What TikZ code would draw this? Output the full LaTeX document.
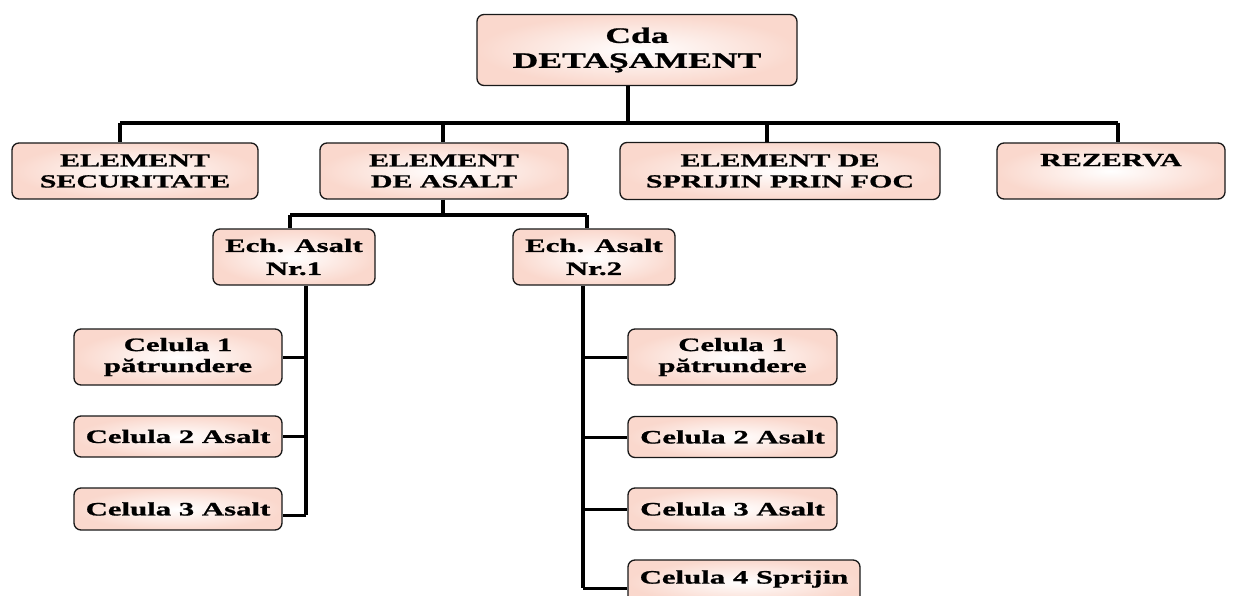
\documentclass[tikz,border=0pt]{standalone}
\usepackage{fontspec}
\newfontfamily\tnr{Liberation Serif}[FakeStretch=1.62, BoldFeatures={FakeBold=1}]
\definecolor{boxpink}{RGB}{250,216,205}
\definecolor{boxline}{RGB}{25,25,25}
\begin{document}
\begin{tikzpicture}[x=1pt,y=-1pt,
  box/.style={draw=boxline, line width=1.3pt, rounded corners=7pt,
    inner color=white, outer color=boxpink, align=center,
    inner sep=0pt, font=\tnr\bfseries},
  topfont/.style={font=\tnr\bfseries\fontsize{22}{25}\selectfont},
  rowfont/.style={font=\tnr\bfseries\fontsize{18.5}{21}\selectfont},
  cellfont/.style={font=\tnr\bfseries\fontsize{19}{21}\selectfont},
  echfont/.style={font=\tnr\bfseries\fontsize{19}{23}\selectfont},
  bus/.style={line width=4.8pt, line join=miter},
  thin/.style={line width=3pt, line join=miter}]
\useasboundingbox (0,0) rectangle (1237,596);

% nodes
\node[box, topfont, minimum width=320pt, minimum height=71pt] (top) at (637,50) {Cda\\DETAŞAMENT};
\node[box, rowfont, minimum width=246pt, minimum height=56pt] (sec) at (135,171) {ELEMENT\\SECURITATE};
\node[box, rowfont, minimum width=248pt, minimum height=56pt] (asalt) at (444,171) {ELEMENT\\DE ASALT};
\node[box, rowfont, minimum width=320pt, minimum height=57pt] (foc) at (780,171) {ELEMENT DE\\SPRIJIN PRIN FOC};
\node[box, rowfont, minimum width=228pt, minimum height=56pt, text depth=22pt] (rez) at (1111,171) {REZERVA};

\node[box, echfont, minimum width=162pt, minimum height=56pt] (ech1) at (294,257) {Ech. Asalt\\Nr.1};
\node[box, echfont, minimum width=162pt, minimum height=56pt] (ech2) at (594,257) {Ech. Asalt\\Nr.2};

\node[box, cellfont, minimum width=208pt, minimum height=56pt] (c11) at (178,357) {Celula 1\\pătrundere};
\node[box, cellfont, minimum width=208pt, minimum height=41pt] (c12) at (178,436.5) {Celula 2 Asalt};
\node[box, cellfont, minimum width=208pt, minimum height=42pt] (c13) at (178,509) {Celula 3 Asalt};

\node[box, cellfont, minimum width=209pt, minimum height=56pt] (c21) at (732.5,357) {Celula 1\\pătrundere};
\node[box, cellfont, minimum width=209pt, minimum height=41pt] (c22) at (732.5,437) {Celula 2 Asalt};
\node[box, cellfont, minimum width=209pt, minimum height=42pt] (c23) at (732.5,509) {Celula 3 Asalt};
\node[box, cellfont, minimum width=232pt, minimum height=44pt, text depth=10pt] (c24) at (744,582) {Celula 4 Sprijin};

% coordinates of the buses
\coordinate (b0) at (628,123);
\coordinate (b1) at (120,123);
\coordinate (b2) at (443,123);
\coordinate (b3) at (767,123);
\coordinate (b4) at (1118,123);
\coordinate (a0) at (443,215);
\coordinate (a1) at (290,215);
\coordinate (a2) at (587,215);
\coordinate (l3) at (306,515);
\coordinate (r4) at (583,588);

% top level
\draw[bus] (top.south -| b0) -- (b0);
\draw[bus] (b1) -- (b4);
\draw[bus] (b1) -- (sec.north -| b1);
\draw[bus] (b2) -- (asalt.north -| b2);
\draw[bus] (b3) -- (foc.north -| b3);
\draw[bus] (b4) -- (rez.north -| b4);

% assault element
\draw[bus] (asalt.south -| a0) -- (a0);
\draw[bus] (a1) -- (a2);
\draw[bus] (a1) -- (ech1.north -| a1);
\draw[bus] (a2) -- (ech2.north -| a2);

% echelon 1
\draw[bus] (ech1.south -| l3) -- (l3);
\draw[thin] (l3) -- (l3 -| c13.east);
\draw[thin] (l3 |- c11.east) -- (c11.east);
\draw[thin] (l3 |- c12.east) -- (c12.east);

% echelon 2
\draw[bus] (ech2.south -| r4) -- (r4);
\draw[thin] (r4) -- (r4 -| c24.west);
\draw[thin] (r4 |- c21.west) -- (c21.west);
\draw[thin] (r4 |- c22.west) -- (c22.west);
\draw[thin] (r4 |- c23.west) -- (c23.west);
\end{tikzpicture}
\end{document}
